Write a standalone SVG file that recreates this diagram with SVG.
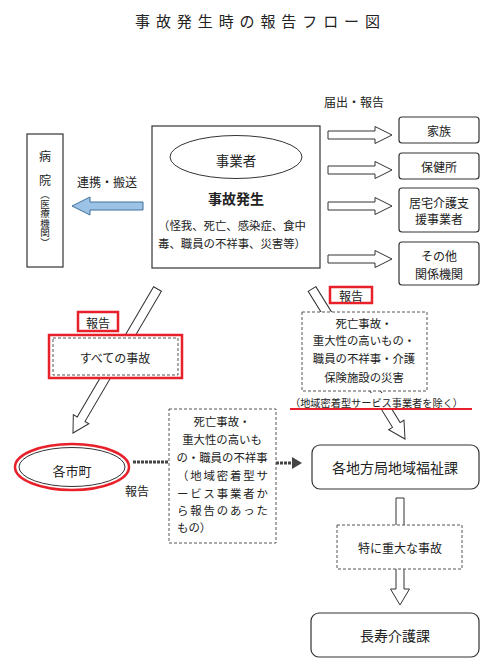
<svg xmlns="http://www.w3.org/2000/svg" width="500" height="664" viewBox="0 0 500 664">
<style>
text{font-family:"Noto Sans CJK JP","Noto Sans CJK SC",sans-serif;fill:#222;dominant-baseline:central}
.c{text-anchor:middle}
.s12{font-size:12px}
.s11{font-size:11.4px}
.box{fill:#fff;stroke:#333;stroke-width:1.2}
.dash{fill:#fff;stroke:#555;stroke-width:1;stroke-dasharray:3 2}
.arr{fill:#fff;stroke:#333;stroke-width:1}
.thick{stroke:#444;stroke-width:3;stroke-dasharray:3 1;fill:none}
</style>
<rect width="500" height="664" fill="#fff"/>
<text x="135" y="20" font-size="15" textLength="245" lengthAdjust="spacing">事故発生時の報告フロー図</text>
<text class="c s12" x="354" y="101">届出・報告</text>
<text class="c s12" x="107" y="181">連携・搬送</text>

<g id="connectors">
  <polygon points="143,202 90,202 90,197 72,206 90,215 90,210 143,210" fill="#9cc3e5" stroke="#41719c" stroke-width="1"/>
  <g class="arr">
    <path class="arr" transform="translate(328,135)" d="M0,-4 H47 V-8.5 L64,0 L47,8.5 V4 H0 Z"/>
    <path class="arr" transform="translate(328,170)" d="M0,-4 H47 V-8.5 L64,0 L47,8.5 V4 H0 Z"/>
    <path class="arr" transform="translate(328,206)" d="M0,-4 H47 V-8.5 L64,0 L47,8.5 V4 H0 Z"/>
    <path class="arr" transform="translate(328,259)" d="M0,-4 H47 V-8.5 L64,0 L47,8.5 V4 H0 Z"/>
    <path class="arr" transform="translate(157.5,289) rotate(120.4)" d="M0,-4.5 H151 V-9 L167,0 L151,9 V4.5 H0 Z"/>
    <path class="arr" transform="translate(312,289) rotate(58.2)" d="M0,-4.5 H160 V-9 L176.5,0 L160,9 V4.5 H0 Z"/>
    <path class="arr" d="M396,498 H404 V589 H409.5 L400,605 L390.5,589 H396 Z"/>
  </g>
  <line class="thick" x1="133" y1="462" x2="168" y2="462"/>
  <line class="thick" x1="276" y1="463" x2="294" y2="463"/>
  <polygon points="292,457 302,463 292,469" fill="#444"/>
  <text class="c s12" x="137" y="490">報告</text>
</g>

<g id="hospital">
  <rect class="box" x="27" y="134" width="36" height="133"/>
  <text class="c s12" x="45" y="155">病</text>
  <text class="c s12" x="45" y="179">院</text>
  <text x="45" y="190" font-size="9.5" writing-mode="vertical-rl" style="dominant-baseline:auto">（医療機関）</text>
</g>

<g id="jigyosha">
  <rect class="box" x="152" y="126" width="168" height="142"/>
  <ellipse cx="236" cy="157" rx="66" ry="21.5" fill="#fff" stroke="#333" stroke-width="1"/>
  <text class="c" x="236" y="160" font-size="13.5">事業者</text>
  <text class="c" x="236" y="198" font-size="14" font-weight="bold">事故発生</text>
  <text class="s11" x="158" y="225" textLength="148" lengthAdjust="spacing">（怪我、死亡、感染症、食中</text>
  <text class="s11" x="158" y="243" textLength="148" lengthAdjust="spacing">毒、職員の不祥事、災害等）</text>
</g>

<g id="kazoku">
  <rect class="box" x="399" y="117" width="80" height="26" rx="3"/>
  <text class="c s12" x="439" y="130">家族</text>
</g>
<g id="hokenjo">
  <rect class="box" x="399" y="153" width="80" height="26" rx="3"/>
  <text class="c s12" x="439" y="166">保健所</text>
</g>
<g id="kyotaku">
  <rect class="box" x="399" y="188" width="80" height="44" rx="3"/>
  <text class="c s12" x="439" y="202">居宅介護支</text>
  <text class="c s12" x="439" y="218">援事業者</text>
</g>
<g id="sonota">
  <rect class="box" x="399" y="242" width="80" height="43" rx="3"/>
  <text class="c s12" x="439" y="255">その他</text>
  <text class="c s12" x="439" y="273">関係機関</text>
</g>

<g id="report-right">
  <rect x="330" y="287" width="42" height="16" fill="#fff" stroke="#e8202a" stroke-width="2.5"/>
  <text class="c s12" x="351" y="295">報告</text>
</g>

<g id="condition-right">
  <rect class="dash" x="302" y="312" width="125" height="79"/>
  <text class="c s11" x="364" y="323">死亡事故・</text>
  <text class="c s11" x="364" y="340">重大性の高いもの・</text>
  <text class="c s11" x="364" y="358">職員の不祥事・介護</text>
  <text class="c s11" x="364" y="377">保険施設の災害</text>
  <rect x="288" y="393" width="186" height="15" fill="#fff"/>
  <text x="290" y="402" font-size="10.2" textLength="173" lengthAdjust="spacing">（地域密着型サービス事業者を除く）</text>
  <line x1="290" y1="409" x2="472" y2="409" stroke="#e8202a" stroke-width="2"/>
</g>

<g id="report-left">
  <rect x="78" y="312" width="40" height="19" fill="#fff" stroke="#e8202a" stroke-width="2.5"/>
  <text class="c s12" x="98" y="322">報告</text>
</g>

<g id="all-accidents">
  <rect x="49" y="335" width="133" height="43" fill="#fff" stroke="#e8202a" stroke-width="2.5"/>
  <rect x="53" y="338" width="125" height="37" fill="#fff" stroke="#555" stroke-width="1" stroke-dasharray="3 2"/>
  <text class="c s12" x="115" y="357">すべての事故</text>
</g>

<g id="shicho">
  <ellipse cx="72" cy="467" rx="57" ry="23" fill="#fff" stroke="#e8202a" stroke-width="2.5"/>
  <ellipse cx="72" cy="467" rx="53" ry="19.5" fill="none" stroke="#333" stroke-width="1"/>
  <text class="c" x="72" y="470" font-size="13">各市町</text>
</g>

<g id="condition-middle">
  <rect class="dash" x="169" y="409" width="107" height="134" stroke="#333"/>
  <text class="c s11" x="222" y="421">死亡事故・</text>
  <text class="c s11" x="222" y="439">重大性の高いも</text>
  <text class="c s11" x="222" y="457">の・職員の不祥事</text>
  <text class="s11" x="177" y="475" textLength="91" lengthAdjust="spacing">（地域密着型サ</text>
  <text class="s11" x="177" y="493" textLength="91" lengthAdjust="spacing">ービス事業者か</text>
  <text class="s11" x="177" y="510" textLength="91" lengthAdjust="spacing">ら報告のあった</text>
  <text class="s11" x="177" y="527">もの）</text>
</g>

<g id="chiho">
  <rect class="box" x="312" y="445" width="167" height="44" rx="8"/>
  <text class="c" x="395" y="467" font-size="14">各地方局地域福祉課</text>
</g>

<g id="juudai">
  <rect class="dash" x="337" y="525" width="125" height="44" stroke="#333"/>
  <text class="c s12" x="400" y="547">特に重大な事故</text>
</g>

<g id="choju">
  <rect class="box" x="311" y="613" width="168" height="44" rx="8"/>
  <text class="c" x="395" y="635" font-size="14">長寿介護課</text>
</g>
</svg>
